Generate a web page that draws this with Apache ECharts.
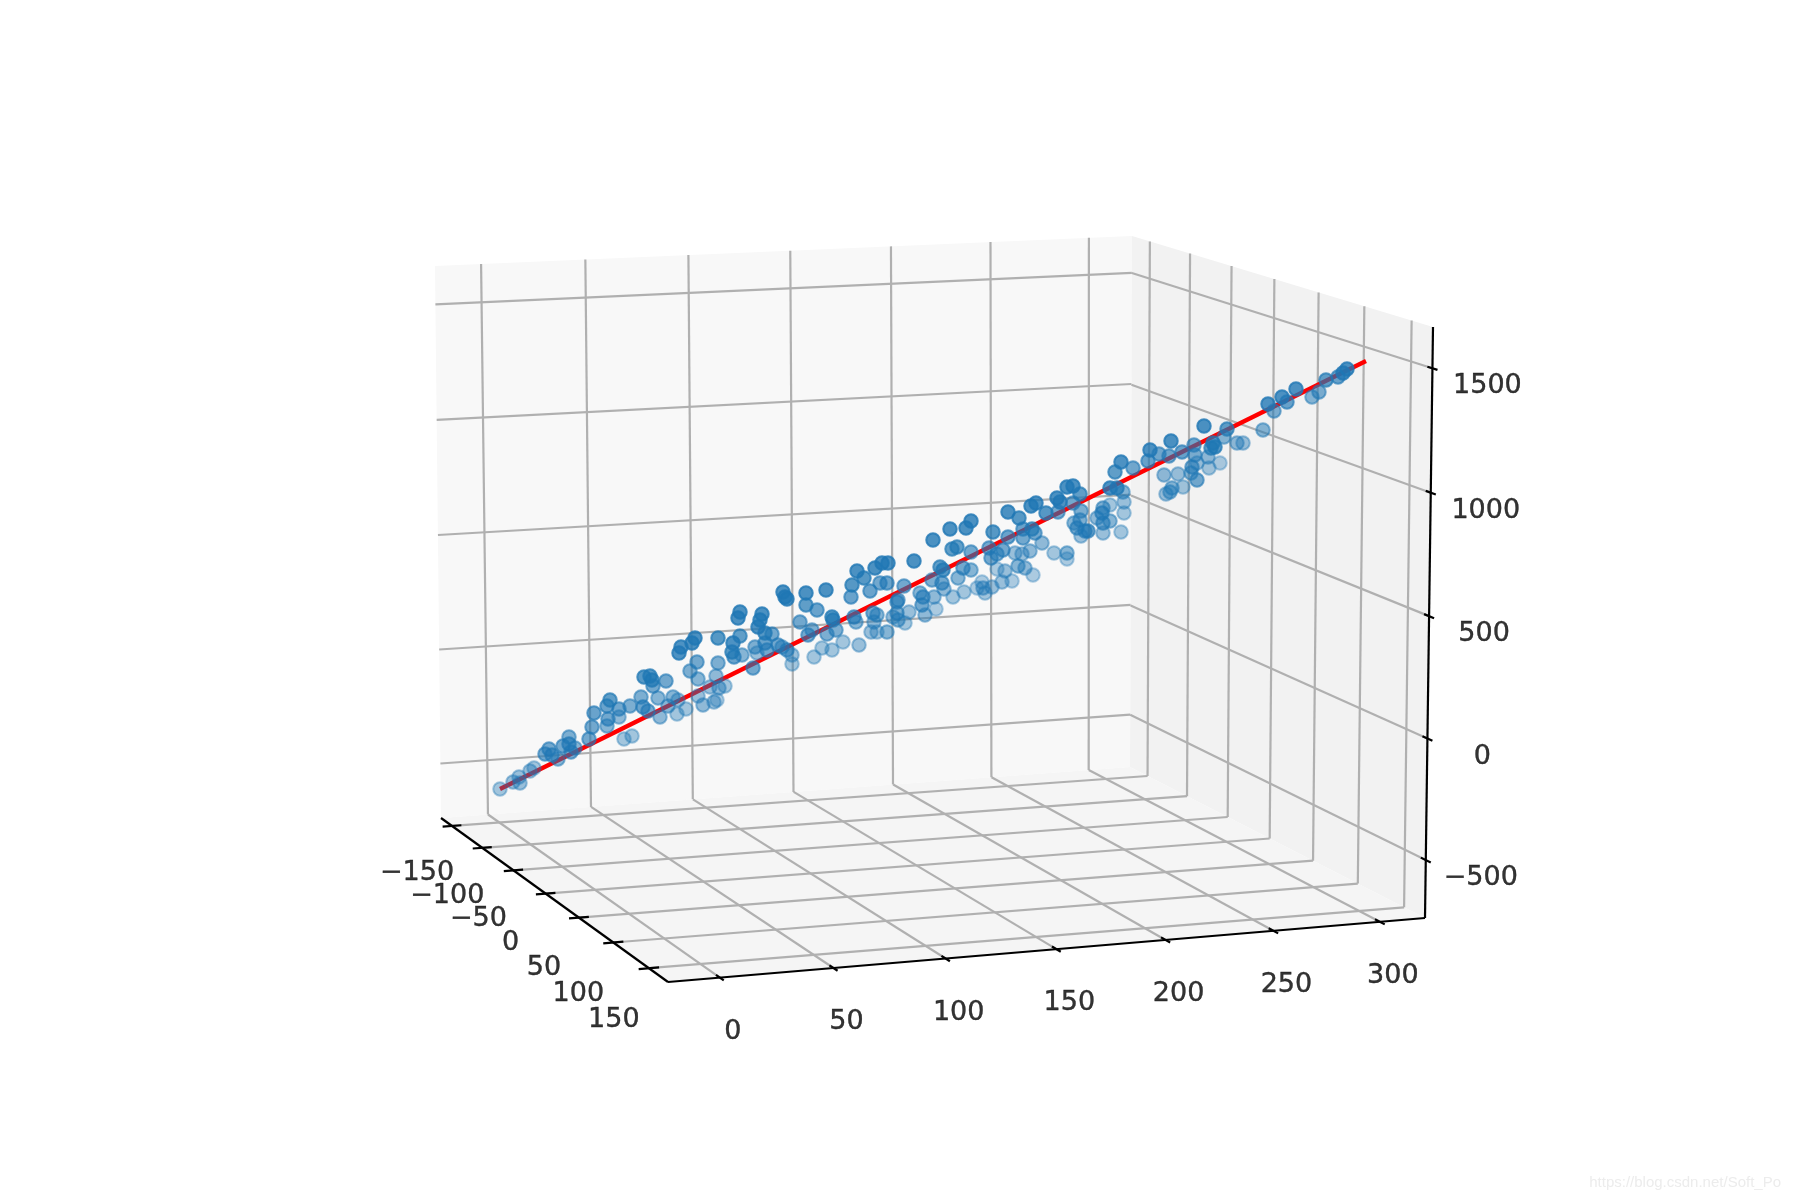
<!DOCTYPE html>
<html>
<head>
<meta charset="utf-8">
<script src="https://cdn.jsdelivr.net/npm/echarts@6/dist/echarts.min.js"></script>
<style>html,body{margin:0;padding:0;background:#fff}#c{width:1800px;height:1200px}</style>
</head>
<body>
<div id="c"></div>
<script>
// ---------- values ----------
const xTicks = [0, 50, 100, 150, 200, 250, 300];
const yTicks = [-150, -100, -50, 0, 50, 100, 150];
const zTicks = [-500, 0, 500, 1000, 1500];
const xTickLabels = ['0', '50', '100', '150', '200', '250', '300'];
const yTickLabels = ['\u2212150', '\u2212100', '\u221250', '0', '50', '100', '150'];
const zTickLabels = ['\u2212500', '0', '500', '1000', '1500'];
const xRange = [-22.6, 321.4];
const yRange = [-168.6, 176.2];
const zRange = [-740, 1665];

// samples read in the picture plane, with the depth shade
const sampleU = [
500,513,519,520,530,534,545,549,552,558,563,569,569,571,575,589,592,594,607,608,607,610,619,619,630,624,632,641,643,648,
644,650,652,653,666,658,660,668,673,677,686,678,697,690,698,698,703,714,717,710,716,718,719,725,679,681,692,695,718,733,
732,734,740,742,753,755,757,758,765,772,765,767,778,740,738,762,760,
783,785,787,806,806,817,826,800,808,812,827,836,832,833,814,822,832,843,859,792,792,782,787,852,851,857,864,870,875,882,
888,887,880,854,856,873,877,871,877,874,887,893,897,898,897,898,909,905,914,904,
933,950,966,971,952,957,971,993,1008,1019,1008,989,991,997,1003,1023,1023,1032,1035,1042,1030,1015,1022,1054,1067,1067,1018,1025,1033,997,
1005,1012,1002,992,982,977,983,985,964,953,940,943,932,942,944,958,963,971,934,936,923,922,925,920,
1031,1036,1046,1057,1060,1067,1073,1058,1080,1073,1081,1080,1074,1077,1081,1088,1085,1097,1103,1110,1103,1121,
1347,1343,1338,1326,1319,1312,1296,1282,1287,1268,1274,1263,1227,1204,1171,1150,1148,1159,1133,1121,1115,1169,1182,1194,1195,1213,1215,1211,1208,1224,
1237,1243,1220,1209,1197,1192,1191,1197,1178,1164,1183,1172,1166,1170,1110,1117,1123,1124,1124,1110,1103,1102
];
const sampleV = [
789,782,777,783,771,768,754,749,755,759,746,737,744,752,748,739,727,713,726,719,706,700,709,717,706,739,736,697,707,711,
677,676,680,686,681,698,717,706,697,714,709,700,662,671,679,696,705,702,700,687,676,663,688,686,653,647,643,638,638,643,
652,657,636,655,668,647,653,627,633,634,643,650,645,612,618,614,620,
592,597,599,593,605,610,590,622,635,630,634,630,617,620,657,648,650,642,645,655,664,647,650,585,597,571,578,591,568,563,
563,583,583,617,622,613,615,632,632,622,632,617,613,620,602,600,612,623,561,586,
540,529,528,521,549,547,552,532,512,518,537,548,558,554,550,529,538,529,533,543,551,553,554,553,553,559,566,568,575,569,
571,581,582,587,582,588,588,593,592,597,567,570,580,583,589,578,568,570,597,609,597,605,615,593,
506,503,513,498,502,487,486,512,494,503,511,520,523,528,536,531,531,518,523,521,533,532,
369,373,377,380,392,397,389,397,402,404,411,430,429,426,441,450,461,454,468,462,472,456,452,445,455,443,447,448,457,437,
443,443,463,468,463,467,473,480,474,475,487,488,494,492,488,488,492,502,513,505,508,513
];
const sampleShade = [
.45,.5,.5,.5,.5,.45,.7,.7,.7,.6,.7,.65,.75,.7,.6,.7,.7,.75,.6,.7,.75,.8,.7,.55,.65,.45,.45,.65,.75,.7,
.85,.85,.85,.7,.7,.6,.55,.6,.6,.45,.45,.5,.7,.65,.6,.5,.55,.5,.4,.5,.55,.65,.55,.45,.9,.9,.95,.95,.85,.9,
.85,.75,.8,.6,.7,.65,.5,.9,.85,.7,.75,.7,.7,1,1,.95,.95,
1,1,1,.95,.8,.75,.95,.7,.7,.65,.65,.65,.85,.8,.45,.45,.45,.45,.5,.5,.45,.6,.7,.85,.75,1,.85,.75,.95,1,
.95,.75,.7,.75,.6,.7,.6,.5,.45,.55,.6,.55,.65,.6,.7,.65,.5,.45,.95,.7,
1,1,1,1,.8,.8,.7,.85,1,.85,.75,.7,.7,.65,.7,.75,.7,.8,.7,.55,.55,.5,.5,.45,.6,.4,.6,.55,.4,.4,
.5,.4,.5,.5,.4,.4,.55,.45,.45,.45,.8,.85,.65,.7,.55,.6,.7,.6,.55,.4,.7,.7,.55,.6,
.95,.95,.85,1,.9,1,.95,.7,.8,.7,.65,.65,.6,.7,.5,.75,.7,.55,.7,.6,.5,.45,
1,.95,.75,.8,.65,.6,.9,.9,.75,.9,.65,.6,.8,.95,.95,.9,.75,.7,.7,.9,.8,.7,.75,.7,.65,.85,.85,.8,.55,.6,
.55,.5,.4,.45,.5,.7,.6,.7,.5,.55,.45,.6,.5,.6,.9,.85,.6,.5,.45,.45,.65,.75
];
// fitted line, read in the picture plane
const fitU = [500, 1366];
const fitV = [789, 361];
const watermark = 'https://blog.csdn.net/Soft_Po';

// ---------- projection of the box onto the picture plane ----------
function quad(p00, p10, p11, p01) {
  const sx = p00[0]-p10[0]+p11[0]-p01[0], sy = p00[1]-p10[1]+p11[1]-p01[1];
  const d1x = p10[0]-p11[0], d1y = p10[1]-p11[1], d2x = p01[0]-p11[0], d2y = p01[1]-p11[1];
  const den = d1x*d2y-d2x*d1y;
  const g = (sx*d2y-d2x*sy)/den, h = (d1x*sy-sx*d1y)/den;
  const a = p10[0]-p00[0]+g*p10[0], b = p01[0]-p00[0]+h*p01[0];
  const d = p10[1]-p00[1]+g*p10[1], e = p01[1]-p00[1]+h*p01[1];
  return (s, t) => { const w = g*s+h*t+1; return [(a*s+b*t+p00[0])/w, (d*s+e*t+p00[1])/w]; };
}
const corners = {
  backBL:[441,818], backBR:[1130,767], backTR:[1132,236], backTL:[435,266],
  frontBL:[668,982], frontBR:[1425,918], frontTR:[1433,327]
};
const floorQ = quad(corners.backBL, corners.backBR, corners.frontBR, corners.frontBL);
const backQ  = quad(corners.backBL, corners.backBR, corners.backTR, corners.backTL);
const sideQ  = quad(corners.backBR, corners.frontBR, corners.frontTR, corners.backTR);
const nx = v => (v-xRange[0])/(xRange[1]-xRange[0]);
const ny = v => (v-yRange[0])/(yRange[1]-yRange[0]);
const nz = v => (v-zRange[0])/(zRange[1]-zRange[0]);

const sideShift = 0.012;
const gridSegs = [];
xTicks.forEach(v => { const s = nx(v);
  gridSegs.push([...floorQ(s,0), ...floorQ(s,1)]);
  gridSegs.push([...backQ(s,0), ...backQ(s-0.002,1)]);
});
yTicks.forEach(v => { const t = ny(v);
  gridSegs.push([...floorQ(0,t), ...sideQ(t+sideShift,0)]);
  gridSegs.push([...sideQ(t+sideShift,0), ...sideQ(t+sideShift,1)]);
});
zTicks.forEach(v => { const r = nz(v);
  gridSegs.push([...backQ(0,r), ...backQ(1,r)]);
  gridSegs.push([...sideQ(0,r), ...sideQ(1,r)]);
});
const axisSegs = [
  [...floorQ(0,0), ...floorQ(0,1)],
  [...floorQ(0,1), ...floorQ(1,1)],
  [...sideQ(1,0), ...sideQ(1,1)]
];
xTicks.forEach(v => { const s = nx(v); axisSegs.push([...floorQ(s,0.985), ...floorQ(s,1.015)]); });
yTicks.forEach(v => { const t = ny(v); axisSegs.push([...floorQ(-0.013,t), ...floorQ(0.013,t)]); });
zTicks.forEach(v => { const r = nz(v); axisSegs.push([...sideQ(0.985,r), ...sideQ(1.015,r)]); });

const panes = [
  {pts:[corners.backBL,corners.backBR,corners.backTR,corners.backTL], fill:'#f8f8f8'},
  {pts:[corners.backBR,corners.frontBR,corners.frontTR,corners.backTR], fill:'#f2f2f2'},
  {pts:[corners.backBL,corners.backBR,corners.frontBR,corners.frontBL], fill:'#f5f5f5'}
];

const labelStyle = {show:true, position:'inside', fontFamily:'DejaVu Sans', fontSize:27, color:'#000000', textBorderColor:'#000000', textBorderWidth:0.4};
const tickLabelData = (ticks, labels, at, offset) => ticks.map((v,i) => ({
  value: at(v),
  label: {...labelStyle, formatter: labels[i], offset: offset(i)}
}));
const labelData = [
  ...tickLabelData(xTicks, xTickLabels, v => floorQ(nx(v),1), i => [13,54]),
  ...tickLabelData(yTicks, yTickLabels, v => floorQ(0,ny(v)), i => [-35,47+0.8*i]),
  ...tickLabelData(zTicks, zTickLabels, v => sideQ(1,nz(v)), i => [55,18])
];

const samples = sampleU.map((u,i) => ({u, v:sampleV[i], a:sampleShade[i]})).sort((p,q) => p.a-q.a);
const sampleData = samples.map(p => {
  const fill = Math.min(1, p.a*1.1);
  return {
    value:[p.u,p.v],
    itemStyle:{color:`rgba(31,119,180,${fill})`, borderColor:`rgba(31,119,180,${fill})`, borderWidth:2}
  };
});

const segRender = (stroke, width) => (params, api) => {
  const a = api.coord([api.value(0),api.value(1)]), b = api.coord([api.value(2),api.value(3)]);
  return {type:'line', shape:{x1:a[0],y1:a[1],x2:b[0],y2:b[1]}, style:{stroke, lineWidth:width, fill:null}};
};

const chart = echarts.init(document.getElementById('c'), null, {renderer:'canvas', width:1800, height:1200});
chart.setOption({
  animation:false,
  backgroundColor:'#ffffff',
  title:{text:watermark, right:14, top:1170, textStyle:{fontFamily:'Liberation Sans', fontSize:15, fontWeight:'normal', color:'#ececec'}},
  grid:{left:0,right:0,top:0,bottom:0},
  xAxis:{type:'value',min:0,max:1800,show:false},
  yAxis:{type:'value',min:0,max:1200,inverse:true,show:false},
  series:[
    {type:'custom', z:1, silent:true, clip:false, data:panes.map((p,i)=>[i]),
     encode:{x:0,y:0},
     renderItem:(params,api)=>{ const p = panes[params.dataIndex];
       return {type:'polygon', shape:{points:p.pts.map(q=>api.coord(q))}, style:{fill:p.fill, stroke:null}}; }},
    {type:'custom', z:2, silent:true, clip:false, data:gridSegs, encode:{x:[0,2],y:[1,3]}, renderItem:segRender('#b0b0b0',2.2)},
    {type:'custom', z:3, silent:true, clip:false, data:axisSegs, encode:{x:[0,2],y:[1,3]}, renderItem:segRender('#000000',2.2)},
    {type:'line', z:4, silent:true, showSymbol:false, data:fitU.map((u,i)=>[u,fitV[i]]), lineStyle:{color:'#ff0000',width:4.2}},
    {type:'scatter', z:5, silent:true, symbol:'circle', symbolSize:13.5, data:sampleData},
    {type:'scatter', z:6, silent:true, symbol:'circle', symbolSize:1, itemStyle:{color:'transparent'}, data:labelData,
     label:labelStyle}
  ]
});
</script>
</body>
</html>
